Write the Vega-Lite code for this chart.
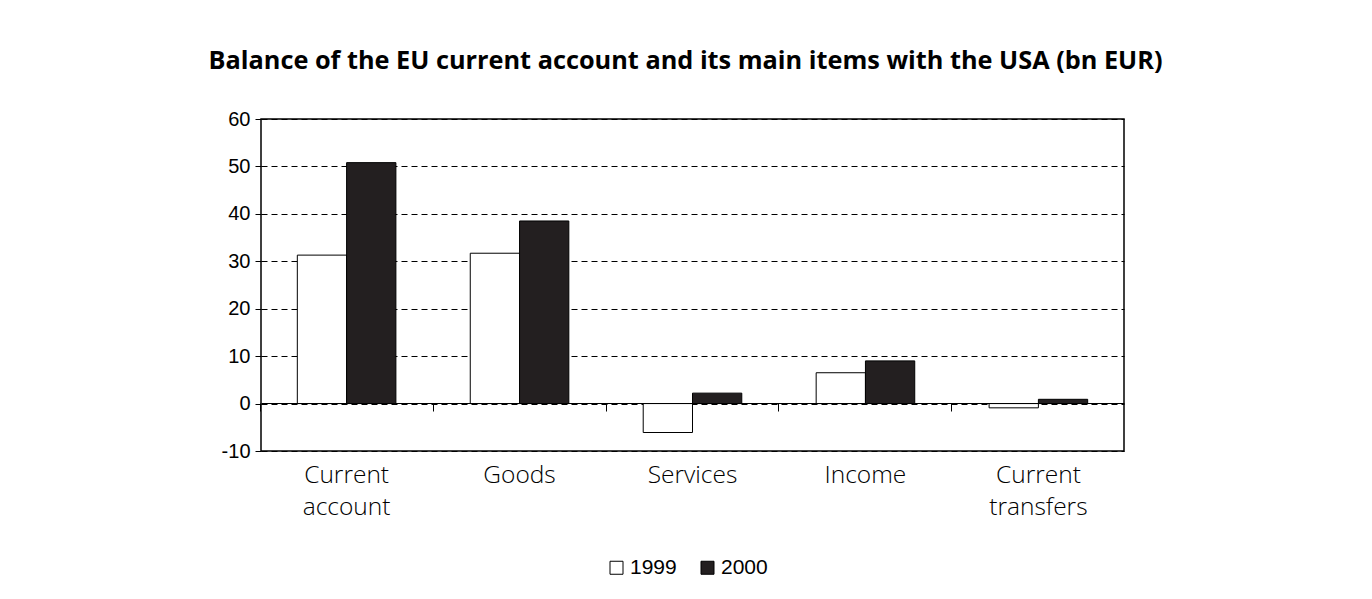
{
  "$schema": "https://vega.github.io/schema/vega-lite/v6.json",
  "width": 863,
  "height": 332,
  "autosize": {"type": "none"},
  "padding": {"left": 261, "top": 119, "right": 248, "bottom": 148},
  "background": "white",
  "title": {
    "text": "Balance of the EU current account and its main items with the USA (bn EUR)",
    "anchor": "middle",
    "frame": "group",
    "offset": 35,
    "dx": -7,
    "font": "Open Sans",
    "fontWeight": "bold",
    "fontSize": 25.3,
    "color": "black"
  },
  "data": {
    "values": [
      {"item": "Current account", "year": "1999", "value": 31.3},
      {"item": "Current account", "year": "2000", "value": 50.8},
      {"item": "Goods", "year": "1999", "value": 31.7},
      {"item": "Goods", "year": "2000", "value": 38.5},
      {"item": "Services", "year": "1999", "value": -6.1},
      {"item": "Services", "year": "2000", "value": 2.2},
      {"item": "Income", "year": "1999", "value": 6.5},
      {"item": "Income", "year": "2000", "value": 9.0},
      {"item": "Current transfers", "year": "1999", "value": -0.9},
      {"item": "Current transfers", "year": "2000", "value": 0.9}
    ]
  },
  "layer": [
    {
      "mark": {"type": "bar", "stroke": "black", "strokeWidth": 1},
      "encoding": {
        "x": {
          "field": "item",
          "type": "nominal",
          "sort": ["Current account", "Goods", "Services", "Income", "Current transfers"],
          "scale": {"paddingInner": 0.43, "paddingOuter": 0.21},
          "axis": {
            "orient": "bottom",
            "title": null,
            "labelAngle": 0,
            "ticks": false,
            "domain": false,
            "labelExpr": "split(datum.label, ' ')",
            "labelFont": "Open Sans",
            "labelFontWeight": 300,
            "labelFontSize": 24.5,
            "labelColor": "black",
            "labelPadding": 12,
            "labelLineHeight": 32
          }
        },
        "xOffset": {"field": "year", "type": "nominal"},
        "y": {
          "field": "value",
          "type": "quantitative",
          "scale": {"domain": [-10, 60], "nice": false},
          "axis": {
            "title": null,
            "values": [-10, 0, 10, 20, 30, 40, 50, 60],
            "labelExpr": "'' + datum.value",
            "tickSize": 6,
            "tickColor": "black",
            "domain": false,
            "labelFont": "Liberation Sans",
            "labelFontSize": 20,
            "labelColor": "black",
            "labelPadding": 5,
            "grid": true,
            "gridColor": "black",
            "gridDash": [6, 4],
            "gridWidth": 1
          }
        },
        "color": {
          "field": "year",
          "type": "nominal",
          "scale": {"domain": ["1999", "2000"], "range": ["white", "#231f20"]},
          "legend": {
            "orient": "none",
            "legendX": 345,
            "legendY": 438,
            "direction": "horizontal",
            "title": null,
            "symbolType": "square",
            "symbolSize": 169,
            "symbolStrokeColor": "black",
            "symbolStrokeWidth": 1,
            "labelFont": "Liberation Sans",
            "labelFontSize": 21,
            "labelColor": "black",
            "labelOffset": 3,
            "columnPadding": 20,
            "padding": 0
          }
        }
      }
    },
    {
      "mark": {"type": "tick", "opacity": 0},
      "encoding": {
        "x": {
          "field": "item",
          "type": "nominal",
          "sort": ["Current account", "Goods", "Services", "Income", "Current transfers"],
          "axis": {
            "orient": "top",
            "offset": -284,
            "title": null,
            "labels": false,
            "grid": false,
            "tickSize": -8,
            "bandPosition": -0.377,
            "tickColor": "black",
            "domain": true,
            "domainColor": "black",
            "domainWidth": 1,
            "zindex": 1
          }
        },
        "y": {"datum": 0}
      }
    }
  ],
  "resolve": {"axis": {"x": "independent"}},
  "config": {
    "view": {"stroke": "black", "strokeWidth": 1.5}
  }
}
